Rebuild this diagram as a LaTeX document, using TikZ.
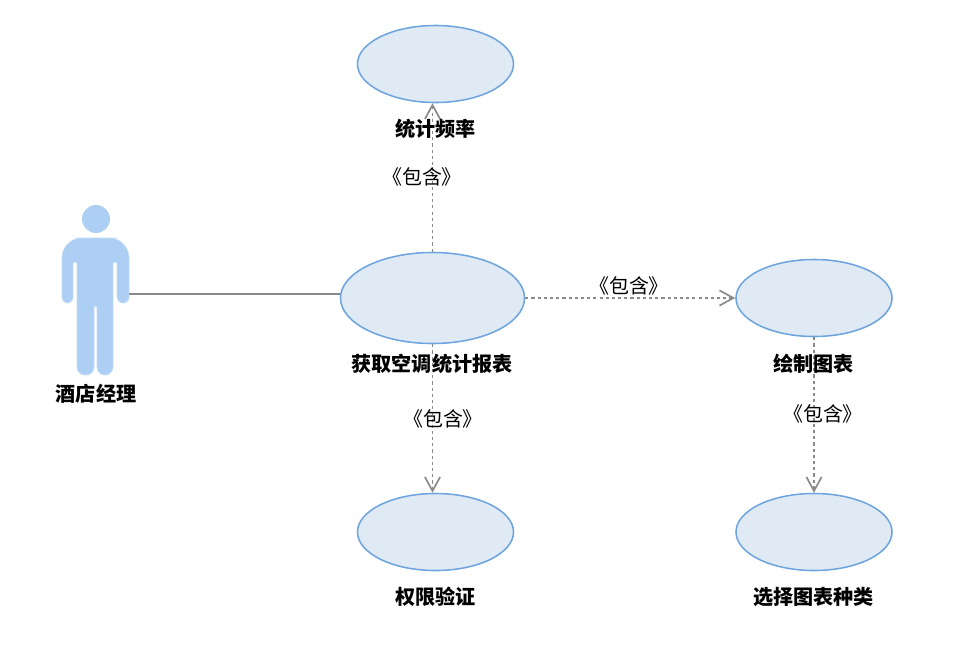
\documentclass[tikz,border=0pt]{standalone}
\usepackage{fontspec}
\setmainfont{Noto Sans CJK SC}
\usetikzlibrary{arrows.meta,shapes.geometric}
\begin{document}
\begin{tikzpicture}[x=0.025cm,y=-0.025cm]
    \tikzset{
    usecase/.style={ellipse,minimum width=3.9cm,minimum height=1.925cm,inner sep=0pt,fill=caseFill,draw=caseLine,line width=1.1pt},
    caption/.style={font=\fontsize{14.3}{16}\selectfont\bfseries,inner sep=0pt},
    incl/.style={font=\fontsize{14.2}{16}\selectfont,inner sep=0pt},
    c1/.style={draw=linkGray,line width=1.2pt},
    c2/.style={draw=linkGray,line width=1.4pt,dash pattern=on 2.2pt off 2.2pt,-{Straight Barb[length=0.35cm,width=0.38cm,line width=1.2pt]}},
    actorbody/.style={fill=actorFill,draw=actorEdge,line width=0.5pt},
    }
    \definecolor{caseFill}{HTML}{E0EAF5}
    \definecolor{caseLine}{HTML}{6FA5DE}
    \definecolor{linkGray}{HTML}{8A8A8A}
    \definecolor{actorFill}{HTML}{ACCFF3}
    \definecolor{actorEdge}{HTML}{C4DCF6}
    \useasboundingbox (0,0) rectangle (964,653);
    % actor
    \node[circle,minimum size=0.7cm,inner sep=0pt,fill=actorFill] (head) at (96,219) {};
    \path[actorbody] (96,238)
        [rounded corners=0.5cm] -- (129,238)
        [rounded corners=0.15cm] -- (129,303) -- (117,303)
        [rounded corners=0.05cm] -- (117,262) -- (113,262)
        [rounded corners=0.2cm] -- (113,375) -- (97,375)
        [rounded corners=0.035cm] -- (97,306) -- (94,306)
        [rounded corners=0.2cm] -- (94,375) -- (77,375)
        [rounded corners=0.05cm] -- (77,262) -- (73,262)
        [rounded corners=0.15cm] -- (73,303) -- (62,303)
        [rounded corners=0.5cm] -- (62,238) -- cycle;
    \coordinate (hand) at (129,294);
    % use cases
    \node[usecase] (freq) at (435.5,64) {};
    \node[usecase,minimum width=4.6cm,minimum height=2.275cm] (report) at (432.5,298) {};
    \node[usecase] (chart) at (814,298) {};
    \node[usecase] (auth) at (435.5,532) {};
    \node[usecase] (kind) at (814,532) {};
    % links
    \draw[c1] (hand) -- (hand -| report.west);
    \draw[c2] (report.north) -- (report.north |- freq.south);
    \draw[c2] (report.east) -- (chart.west);
    \draw[c2] (report.south) -- (report.south |- auth.north);
    \draw[c2] (chart.south) -- (kind.north);
    % labels
    \node[caption] (lactor) at (96,394) {酒店经理};
    \node[caption] (lfreq) at (435.5,129) {统计频率};
    \node[caption] (lreport) at (432,364) {获取空调统计报表};
    \node[caption] (lchart) at (813.5,364) {绘制图表};
    \node[caption] (lauth) at (435.5,597) {权限验证};
    \node[caption] (lkind) at (813.5,597) {选择图表种类};
    \node[incl] (i1) at (422,177) {《包含》};
    \node[incl] (i2) at (629,286) {《包含》};
    \node[incl] (i3) at (443,419) {《包含》};
    \node[incl] (i4) at (823,414) {《包含》};
\end{tikzpicture}
\end{document}
